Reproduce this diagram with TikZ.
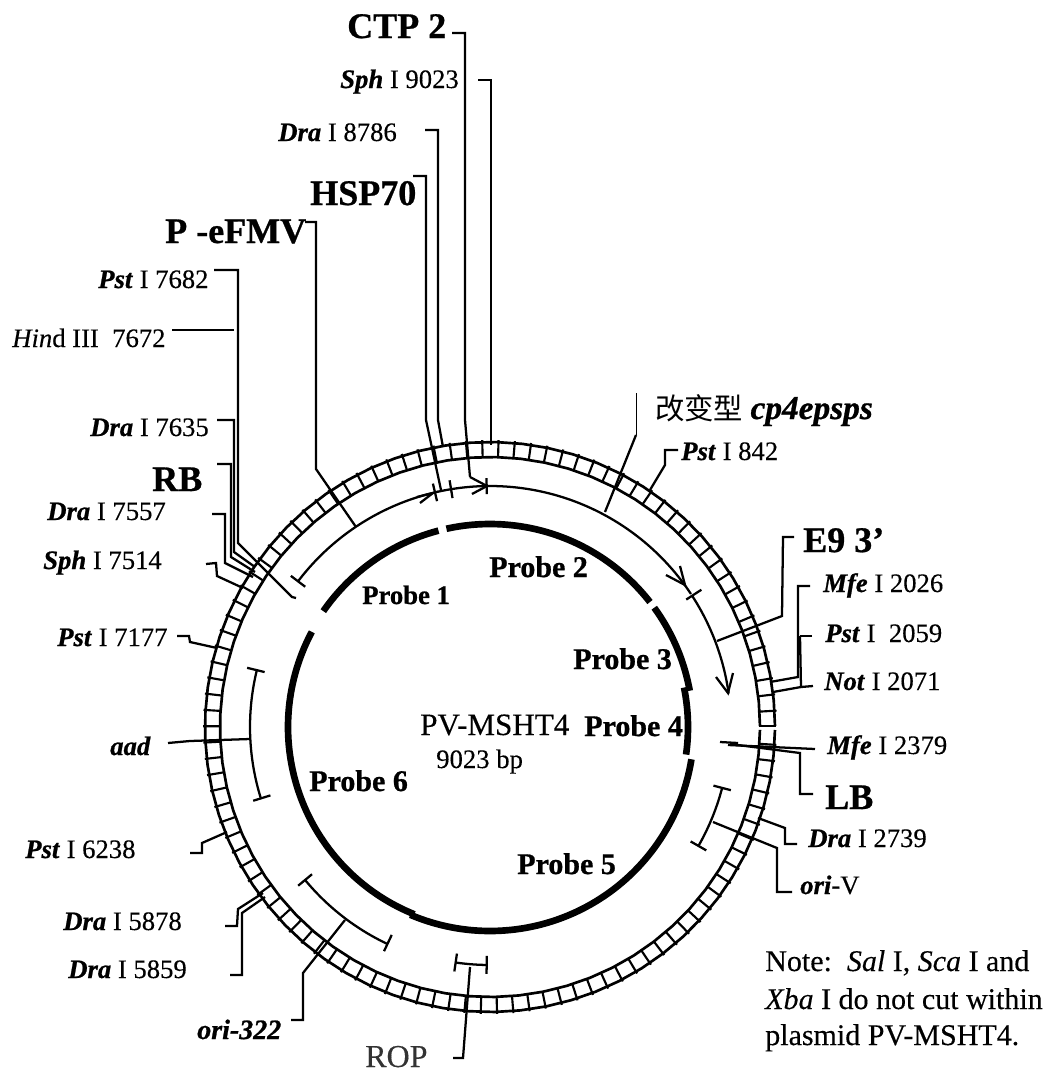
\documentclass[tikz,border=0pt]{standalone}
\usepackage{fontspec}
\setmainfont[FakeBold=0.25,ItalicFeatures={FakeBold=0.25},BoldFeatures={FakeBold=0.8},BoldItalicFeatures={FakeBold=0.8}]{Liberation Serif}
\newfontfamily\cjkfont{Noto Sans CJK SC}
\newcommand\fs[1]{\fontsize{#1}{#1}\selectfont}
\newcommand\bi[1]{\textbf{\textit{#1}}}
% arc of radius #3 from angle #4 to #5
\newcommand\garc[5][]{\draw[#2,#1] plot[domain=#4:#5,samples=70] ({490+#3*cos(\x)},{727-#3*sin(\x)});}
% radial bar at angle #1 on radius #2, half length #3
\newcommand\gbar[3]{\draw[gene] ({490+(#2-#3)*cos(#1)},{727-(#2-#3)*sin(#1)}) -- ({490+(#2+#3)*cos(#1)},{727-(#2+#3)*sin(#1)});}
\tikzset{
  lab/.style={anchor=base west,inner sep=0pt,font=\fs{20}},
  big/.style={anchor=base west,inner sep=0pt,font=\fs{27}\bfseries},
  prb/.style={anchor=base west,inner sep=0pt,font=\fs{22.5}\bfseries},
  lead/.style={line width=1.7pt,line join=miter},
  gene/.style={line width=1.7pt},
  ring/.style={line width=2pt},
  probe/.style={line width=5pt},
}
\begin{document}
\begin{tikzpicture}[x=0.75pt,y=-0.75pt]
\useasboundingbox (0,0) rectangle (1049,1072);
\fill[white] (0,0) rectangle (1049,1072);
% ---------- ring
\garc{ring}{285}{0.2}{359.4}
\garc{ring}{270}{0.2}{359.4}
\draw[ring] (759,726) -- (776,726);
\foreach \a in {3.27,6.54,...,358} {
  \draw[line width=1.6pt] ({490+270*cos(\a)},{727-270*sin(\a)}) -- ({490+287*cos(\a)},{727-287*sin(\a)});
}
% ---------- probes
\garc{probe}{203}{104.7}{145.2}
\garc{probe}{203}{38}{102.4}
\garc{probe}{203}{10.3}{36}
\garc{probe}{198}{-8}{11.5}
\garc{probe}{204}{-113}{-9.1}
\garc{probe}{202}{151.9}{248}
% ---------- gene arcs
\garc{gene}{241}{103.7}{142.8}
\gbar{142.8}{241}{9}
\draw[gene] (417,497) -- (433,493) -- (420,503);
\gbar{103.2}{241}{9}
\garc{gene}{241}{90.8}{103.7}
\gbar{99.3}{241}{9}
\draw[gene] (470,477) -- (487,486) -- (472,494);
\gbar{90.8}{241}{8}
\garc{gene}{241}{33.5}{90.8}
\draw[gene] (666,575) -- (685,585) -- (680,566);
\gbar{33}{243}{9}
\garc{gene}{241}{8}{33}
\draw[gene] (716,677) -- (728,693) -- (733,673);
\gbar{166.3}{241}{9}
\gbar{197.3}{239}{9}
\garc{gene}{240}{166.3}{197.3}
\gbar{-14.7}{240}{9}
\gbar{-29.7}{240}{9}
\garc{gene}{240}{-29.7}{-14.7}
\gbar{-140.4}{240}{9}
\gbar{-115.3}{239}{9}
\garc{gene}{240}{-140.4}{-115.3}
\gbar{-98.3}{238}{9}
\gbar{-90.8}{238}{9}
\garc{gene}{238}{-98.3}{-90.8}
% ---------- labels
\node[big] (ctp) at (347,38) {CTP 2};
\node[lab] (sph9023) at (340,88) {\bi{Sph} I 9023};
\node[lab] (dra8786) at (278,141) {\bi{Dra} I 8786};
\node[big] (hsp) at (310,205) {HSP70};
\node[big] (pefmv) at (165,243) {P -eFMV};
\node[lab] (pst7682) at (98,288) {\bi{Pst} I 7682};
\node[lab] (hind) at (12,347) {\textit{Hin}d III\ \ 7672};
\node[lab] (dra7635) at (90,436) {\bi{Dra} I 7635};
\node[big] (rb) at (152,491) {RB};
\node[lab] (dra7557) at (47,520) {\bi{Dra} I 7557};
\node[lab] (sph7514) at (43,569) {\bi{Sph} I 7514};
\node[lab] (pst7177) at (57,646) {\bi{Pst} I 7177};
\node[lab] (aad) at (110,755) {\bi{aad}};
\node[lab] (pst6238) at (25,858) {\bi{Pst} I 6238};
\node[lab] (dra5878) at (63,930) {\bi{Dra} I 5878};
\node[lab] (dra5859) at (68,978) {\bi{Dra} I 5859};
\node[lab,font=\fs{21}] (ori322) at (197,1039) {\bi{ori-322}};
\node[lab,font=\fs{24},text=black!80] (rop) at (365,1067) {ROP};
\node[lab,font=\fs{22}] (cp4) at (655,419) {{\cjkfont 改变型} {\fs{25}\bi{cp4epsps}}};
\node[lab] (pst842) at (681,460) {\bi{Pst} I 842};
\node[big] (e9) at (803,552) {E9 3’};
\node[lab] (mfe2026) at (823,592) {\bi{Mfe} I 2026};
\node[lab] (pst2059) at (825,642) {\bi{Pst} I\ \ 2059};
\node[lab] (not2071) at (824,690) {\bi{Not} I 2071};
\node[lab] (mfe2379) at (827,754) {\bi{Mfe} I 2379};
\node[big] (lb) at (825,809) {LB};
\node[lab] (dra2739) at (808,847) {\bi{Dra} I 2739};
\node[lab] (oriv) at (800,894) {\bi{ori}-V};
\node[prb,font=\fs{20}\bfseries] (p1) at (362,604) {Probe 1};
\node[prb] (p2) at (489,577) {Probe 2};
\node[prb] (p3) at (573,669) {Probe 3};
\node[prb] (p4) at (584,736) {Probe 4};
\node[prb] (p5) at (517,874) {Probe 5};
\node[prb] (p6) at (309,791) {Probe 6};
\node[lab,font=\fs{23.3}] (pv) at (420,735) {PV-MSHT4};
\node[lab] (bp) at (436,768) {9023 bp};
\node[lab,font=\fs{22.5}] (note1) at (765,971) {Note:\ \ \textit{Sal} I, \textit{Sca} I and};
\node[lab,font=\fs{22.5}] (note2) at (765,1009) {\textit{Xba} I do not cut within};
\node[lab,font=\fs{22.5}] (note3) at (765,1045) {plasmid PV-MSHT4.};
% ---------- leaders
\coordinate (sctp) at (452,33);
\coordinate (ssph) at (478,80);
\coordinate (sdra8) at (425,130);
\coordinate (shsp) at (413,176);
\coordinate (spef) at (305,222);
\coordinate (sp76) at (214,270);
\coordinate (shin) at (172,330);
\coordinate (sd76) at (217,420);
\draw[lead] (sctp) -- (465,33) -- (465,420) -- (470,477);
\draw[lead] (ssph) -- (491,80) -- (491,445);
\draw[lead] (sdra8) -- (438,130) -- (438,420) -- (443,447);
\draw[lead] (shsp) -- (426,176) -- (426,420) -- (441,490);
\draw[lead] (spef) -- (316,222) -- (316,469) -- (356,527);
\draw[lead] (sp76) -- (238,270) -- (238,543) -- (292,597) -- (296,598);
\draw[lead] (shin) -- (234,330);
\draw[lead] (sd76) -- (234,420) -- (234,552) -- (255,567);
\draw[lead] (217,464) -- (231,464) -- (231,557) -- (255,572);
\draw[lead] (212,514) -- (225,514) -- (225,563) -- (253,577);
\draw[lead] (206,564) -- (216,563) -- (217,576) -- (243,588);
\draw[lead] (177,636) -- (189,636) -- (190,642) -- (217,648);
\draw[lead] (168,743) -- (190,741) -- (250,739);
\draw[lead] (190,853) -- (202,853) -- (202,843) -- (227,832);
\draw[lead] (225,926) -- (237,926) -- (238,909) -- (263,893);
\draw[lead] (230,975) -- (242,975) -- (242,913) -- (265,897);
\draw[lead] (291,1020) -- (303,1020) -- (303,973) -- (345,920);
\draw[lead] (453,1058) -- (463,1058) -- (470,967);
\draw[line width=0.6pt] (636,393) -- (636,435);
\draw[lead] (636,435) -- (605,512);
\draw[lead] (678,450) -- (665,450) -- (665,465) -- (650,490);
\draw[lead] (794,537) -- (783,537) -- (782,616) -- (717,641);
\draw[lead] (810,586) -- (798,586) -- (798,677) -- (770,682);
\draw[lead] (812,636) -- (800,636);
\draw[lead] (800,636) -- (801,687);
\draw[lead] (813,686) -- (801,687) -- (773,692);
\draw[lead] (720,742) -- (738,743);
\draw[lead] (728,745) -- (815,749);
\draw[lead] (813,794) -- (800,794) -- (800,753) -- (730,744);
\draw[lead] (758,818) -- (785,828) -- (785,844) -- (797,844);
\draw[lead] (713,822) -- (777,848) -- (777,892) -- (792,892);
\end{tikzpicture}
\end{document}
